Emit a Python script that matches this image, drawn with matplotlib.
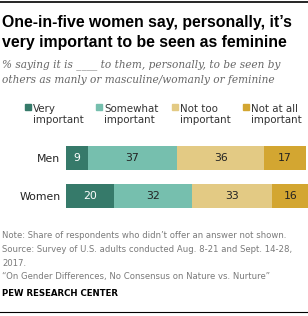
import matplotlib.pyplot as plt
from matplotlib.patches import Rectangle

groups = ["Men", "Women"]
categories = ["Very\nimportant", "Somewhat\nimportant", "Not too\nimportant", "Not at all\nimportant"]
very = [9, 20]
somewhat = [37, 32]
not_too = [36, 33]
not_at_all = [17, 16]
colors = ["#367a6a", "#76bfae", "#e3ca84", "#d3a631"]
label_colors = ["white", "#222222", "#222222", "#222222"]

W, H = 308, 316
fig = plt.figure(figsize=(W / 100, H / 100), dpi=100)

def px(x, y):
    return x / W, 1 - y / H

# top and bottom rules
fig.add_artist(plt.Line2D([0, 1], [1 - 1.5 / H] * 2, color="black", lw=1.2))
fig.add_artist(plt.Line2D([0, 1], [1 - 312 / H] * 2, color="black", lw=0.8))

title_font = ["Liberation Sans Narrow", "Liberation Sans", "DejaVu Sans"]
fig.text(*px(2, 22), "One-in-five women say, personally, it\u2019s", fontsize=11.4,
         fontweight="bold", family=title_font, va="center", ha="left", color="black")
fig.text(*px(2, 42), "very important to be seen as feminine", fontsize=11.4,
         fontweight="bold", family=title_font, va="center", ha="left", color="black")
fig.text(*px(2, 65), "% saying it is ____ to them, personally, to be seen by", fontsize=7.6,
         style="italic", family="DejaVu Serif", va="center", ha="left", color="#666666")
fig.text(*px(2, 80), "others as manly or masculine/womanly or feminine", fontsize=7.6,
         style="italic", family="DejaVu Serif", va="center", ha="left", color="#666666")

# legend
leg_x = [25, 96, 172, 243]
for x, lab, c in zip(leg_x, categories, colors):
    fig.add_artist(Rectangle(px(x, 110), 6 / W, 6 / H, color=c, transform=fig.transFigure))
    fig.text(*px(x + 8, 114.5), lab, fontsize=7.4, va="center", ha="left",
             color="#333333", linespacing=1.1)

ax = fig.add_axes([66 / W, 1 - 215 / H, (308 - 66) / W, 76 / H])
series = [very, somewhat, not_too, not_at_all]
ypos = [0, 1]
left = [0, 0]
for vals, c, tc in zip(series, colors, label_colors):
    ax.barh(ypos, vals, left=left, color=c, height=0.63)
    for y, l, v in zip(ypos, left, vals):
        ax.text(l + v / 2, y, str(v), ha="center", va="center", fontsize=7.8, color=tc)
    left = [l + v for l, v in zip(left, vals)]

ax.set_xlim(0, 100)
ax.set_ylim(1.5, -0.5)
ax.set_yticks(ypos)
ax.set_yticklabels(groups, fontsize=7.8, color="#222222")
ax.tick_params(axis="y", length=0, pad=4)
ax.set_xticks([])
for s in ax.spines.values():
    s.set_visible(False)

foot = [
    (235, "Note: Share of respondents who didn\u2019t offer an answer not shown."),
    (250, "Source: Survey of U.S. adults conducted Aug. 8-21 and Sept. 14-28,"),
    (263, "2017."),
    (277, "\u201cOn Gender Differences, No Consensus on Nature vs. Nurture\u201d"),
]
for y, t in foot:
    fig.text(*px(2, y), t, fontsize=6.1, va="center", ha="left", color="#7a7a7a")
fig.text(*px(2, 293), "PEW RESEARCH CENTER", fontsize=6.2, fontweight="bold",
         va="center", ha="left", color="black")

fig.savefig("out.png", dpi=100)
